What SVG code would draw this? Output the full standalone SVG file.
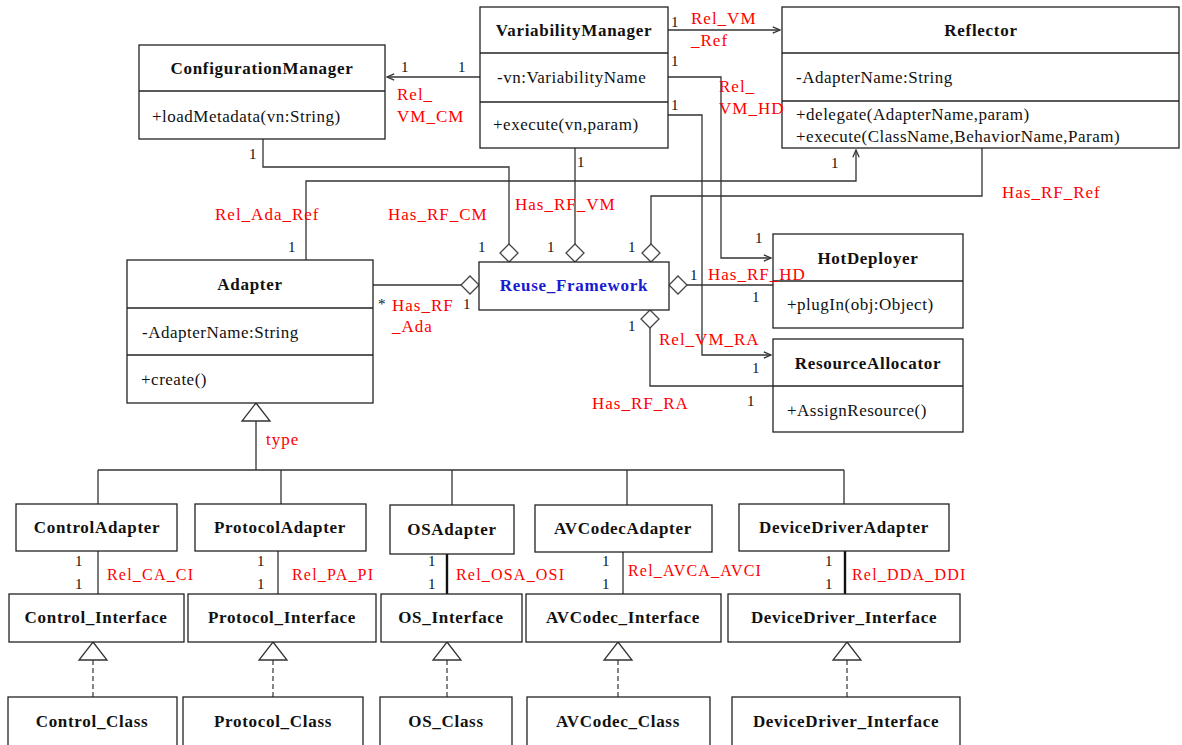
<svg xmlns="http://www.w3.org/2000/svg" width="1182" height="745" viewBox="0 0 1182 745">
<defs>
<style>
.box{fill:#fff;stroke:#222;stroke-width:1.3}
.name{font-family:"Liberation Serif",serif;font-weight:bold;font-size:17px;letter-spacing:0.7px;text-anchor:middle;fill:#111}
.mem{font-family:"Liberation Serif",serif;font-size:17px;letter-spacing:0.5px;fill:#111}
.lbl{font-family:"Liberation Serif",serif;font-size:17px;letter-spacing:1px;fill:#f00}
.lbl2{font-family:"Liberation Serif",serif;font-size:16px;letter-spacing:1.2px;fill:#f00}
.num{font-family:"Liberation Serif",serif;font-size:15px;fill:#111}
.ln{fill:none;stroke:#333;stroke-width:1.3}
.thk{fill:none;stroke:#111;stroke-width:2.4}
.dash{fill:none;stroke:#444;stroke-width:1.3;stroke-dasharray:5,3}
.dia{fill:#fff;stroke:#444;stroke-width:1.3}
.tri{fill:#fff;stroke:#333;stroke-width:1.3}
</style>
<marker id="arr" viewBox="0 0 10 10" refX="9" refY="5" markerWidth="9" markerHeight="9" markerUnits="userSpaceOnUse" orient="auto">
<path d="M1,1.5 L9,5 L1,8.5" fill="none" stroke="#333" stroke-width="1.4"/>
</marker>
<polygon id="dmd" points="0,-9 9,0 0,9 -9,0" class="dia"/>
<polygon id="trg" points="0,0 14,18 -14,18" class="tri"/>
</defs>
<rect width="1182" height="745" fill="#fff"/>

<g id="connectors">
<path class="ln" d="M480,77 H387" marker-end="url(#arr)"/>
<path class="ln" d="M668,30 H780" marker-end="url(#arr)"/>
<path class="ln" d="M668,77 H721 V258 H771" marker-end="url(#arr)"/>
<path class="ln" d="M668,115 H702 V355 H771" marker-end="url(#arr)"/>
<path class="ln" d="M263,139 V167 H509 V244"/>
<path class="ln" d="M575,148 V244"/>
<path class="ln" d="M651,244 V196 H982 V148"/>
<path class="ln" d="M306,260 V181 H856 V150" marker-end="url(#arr)"/>
<path class="ln" d="M373,285 H461"/>
<path class="ln" d="M687,285 H773"/>
<path class="ln" d="M650,328 V386 H773"/>
<use href="#dmd" x="509" y="253"/>
<use href="#dmd" x="575" y="253"/>
<use href="#dmd" x="651" y="253"/>
<use href="#dmd" x="470" y="285"/>
<use href="#dmd" x="678" y="285"/>
<use href="#dmd" x="650" y="319"/>
<path class="ln" d="M256,421 V470 M98,470 H844 M98,470 V504 M281,470 V504 M452,470 V505 M627,470 V505 M844,470 V504"/>
<use href="#trg" x="256" y="403"/>
<path class="ln" d="M98,551 V594 M278,551 V594 M623,552 V594"/>
<path class="thk" d="M447,549 V594 M845,551 V594"/>
<path class="dash" d="M93,660 V697 M273,660 V697 M447,660 V697 M618,660 V697 M847,660 V697"/>
<use href="#trg" x="93" y="642"/>
<use href="#trg" x="273" y="642"/>
<use href="#trg" x="447" y="642"/>
<use href="#trg" x="618" y="642"/>
<use href="#trg" x="847" y="642"/>
</g>

<g id="ConfigurationManager">
<rect class="box" x="139" y="45" width="246" height="94"/>
<line class="box" x1="139" y1="91" x2="385" y2="91"/>
<text class="name" x="262" y="74">ConfigurationManager</text>
<text class="mem" x="152" y="122">+loadMetadata(vn:String)</text>
</g>

<g id="VariabilityManager">
<rect class="box" x="480" y="7" width="188" height="141"/>
<line class="box" x1="480" y1="53" x2="668" y2="53"/>
<line class="box" x1="480" y1="102" x2="668" y2="102"/>
<text class="name" x="574" y="36">VariabilityManager</text>
<text class="mem" x="497" y="83">-vn:VariabilityName</text>
<text class="mem" x="493" y="130">+execute(vn,param)</text>
</g>

<g id="Reflector">
<rect class="box" x="782" y="7" width="397" height="141"/>
<line class="box" x1="782" y1="53" x2="1179" y2="53"/>
<line class="box" x1="782" y1="101" x2="1179" y2="101"/>
<text class="name" x="981" y="36">Reflector</text>
<text class="mem" x="796" y="83">-AdapterName:String</text>
<text class="mem" x="796" y="120">+delegate(AdapterName,param)</text>
<text class="mem" x="796" y="142">+execute(ClassName,BehaviorName,Param)</text>
</g>

<g id="Adapter">
<rect class="box" x="127" y="260" width="246" height="143"/>
<line class="box" x1="127" y1="308" x2="373" y2="308"/>
<line class="box" x1="127" y1="355" x2="373" y2="355"/>
<text class="name" x="250" y="290">Adapter</text>
<text class="mem" x="142" y="338">-AdapterName:String</text>
<text class="mem" x="141" y="385">+create()</text>
</g>

<g id="Reuse_Framework">
<rect class="box" x="479" y="262" width="190" height="48"/>
<text class="name" x="574" y="291" style="fill:#1a1ad0">Reuse_Framework</text>
</g>

<g id="HotDeployer">
<rect class="box" x="773" y="234" width="190" height="94"/>
<line class="box" x1="773" y1="281" x2="963" y2="281"/>
<text class="name" x="868" y="264">HotDeployer</text>
<text class="mem" x="787" y="310">+plugIn(obj:Object)</text>
</g>

<g id="ResourceAllocator">
<rect class="box" x="773" y="339" width="190" height="93"/>
<line class="box" x1="773" y1="386" x2="963" y2="386"/>
<text class="name" x="868" y="369">ResourceAllocator</text>
<text class="mem" x="787" y="416">+AssignResource()</text>
</g>

<g id="ControlAdapter"><rect class="box" x="16" y="504" width="161" height="47"/><text class="name" x="97" y="533">ControlAdapter</text></g>
<g id="ProtocolAdapter"><rect class="box" x="195" y="504" width="171" height="47"/><text class="name" x="280" y="533">ProtocolAdapter</text></g>
<g id="OSAdapter"><rect class="box" x="390" y="505" width="124" height="49"/><text class="name" x="452" y="535">OSAdapter</text></g>
<g id="AVCodecAdapter"><rect class="box" x="535" y="505" width="177" height="47"/><text class="name" x="623" y="534">AVCodecAdapter</text></g>
<g id="DeviceDriverAdapter"><rect class="box" x="739" y="504" width="210" height="47"/><text class="name" x="844" y="533">DeviceDriverAdapter</text></g>

<g id="Control_Interface"><rect class="box" x="9" y="594" width="175" height="48"/><text class="name" x="96" y="623">Control_Interface</text></g>
<g id="Protocol_Interface"><rect class="box" x="188" y="594" width="188" height="48"/><text class="name" x="282" y="623">Protocol_Interface</text></g>
<g id="OS_Interface"><rect class="box" x="381" y="594" width="141" height="48"/><text class="name" x="451" y="623">OS_Interface</text></g>
<g id="AVCodec_Interface"><rect class="box" x="526" y="594" width="195" height="48"/><text class="name" x="623" y="623">AVCodec_Interface</text></g>
<g id="DeviceDriver_Interface"><rect class="box" x="728" y="594" width="232" height="48"/><text class="name" x="844" y="623">DeviceDriver_Interface</text></g>

<g id="Control_Class"><rect class="box" x="8" y="697" width="169" height="50"/><text class="name" x="92" y="727">Control_Class</text></g>
<g id="Protocol_Class"><rect class="box" x="183" y="697" width="180" height="50"/><text class="name" x="273" y="727">Protocol_Class</text></g>
<g id="OS_Class"><rect class="box" x="380" y="697" width="132" height="50"/><text class="name" x="446" y="727">OS_Class</text></g>
<g id="AVCodec_Class"><rect class="box" x="527" y="697" width="183" height="50"/><text class="name" x="618" y="727">AVCodec_Class</text></g>
<g id="DeviceDriver_Interface_2"><rect class="box" x="732" y="697" width="228" height="50"/><text class="name" x="846" y="727">DeviceDriver_Interface</text></g>

<g id="labels">
<text class="num" x="401" y="72">1</text>
<text class="num" x="458" y="72">1</text>
<text class="lbl" x="397" y="100">Rel_</text>
<text class="lbl" x="397" y="122">VM_CM</text>
<text class="num" x="671" y="27">1</text>
<text class="lbl" x="691" y="24">Rel_VM</text>
<text class="lbl" x="691" y="46">_Ref</text>
<text class="num" x="671" y="66">1</text>
<text class="num" x="671" y="110">1</text>
<text class="lbl" x="719" y="92">Rel_</text>
<text class="lbl" x="719" y="114">VM_HD</text>
<text class="num" x="249" y="159">1</text>
<text class="num" x="577" y="167">1</text>
<text class="num" x="831" y="168">1</text>
<text class="lbl" x="1002" y="198">Has_RF_Ref</text>
<text class="lbl" x="215" y="220">Rel_Ada_Ref</text>
<text class="lbl" x="388" y="220">Has_RF_CM</text>
<text class="lbl" x="515" y="210">Has_RF_VM</text>
<text class="num" x="288" y="252">1</text>
<text class="num" x="478" y="252">1</text>
<text class="num" x="547" y="252">1</text>
<text class="num" x="628" y="252">1</text>
<text class="num" x="378" y="309">*</text>
<text class="num" x="463" y="309">1</text>
<text class="lbl" x="392" y="311">Has_RF</text>
<text class="lbl" x="392" y="332">_Ada</text>
<text class="num" x="690" y="280">1</text>
<text class="lbl" x="708" y="280">Has_RF_HD</text>
<text class="num" x="755" y="243">1</text>
<text class="num" x="752" y="302">1</text>
<text class="num" x="628" y="331">1</text>
<text class="lbl" x="659" y="345">Rel_VM_RA</text>
<text class="num" x="752" y="373">1</text>
<text class="lbl" x="592" y="409">Has_RF_RA</text>
<text class="num" x="747" y="406">1</text>
<text class="lbl" x="266" y="445">type</text>
<text class="num" x="75" y="566">1</text>
<text class="num" x="75" y="589">1</text>
<text class="lbl2" x="107" y="580">Rel_CA_CI</text>
<text class="num" x="257" y="566">1</text>
<text class="num" x="257" y="589">1</text>
<text class="lbl2" x="292" y="580">Rel_PA_PI</text>
<text class="num" x="428" y="566">1</text>
<text class="num" x="428" y="589">1</text>
<text class="lbl2" x="456" y="580">Rel_OSA_OSI</text>
<text class="num" x="602" y="566">1</text>
<text class="num" x="602" y="589">1</text>
<text class="lbl2" x="628" y="576">Rel_AVCA_AVCI</text>
<text class="num" x="825" y="566">1</text>
<text class="num" x="825" y="589">1</text>
<text class="lbl2" x="852" y="580">Rel_DDA_DDI</text>
</g>
</svg>
